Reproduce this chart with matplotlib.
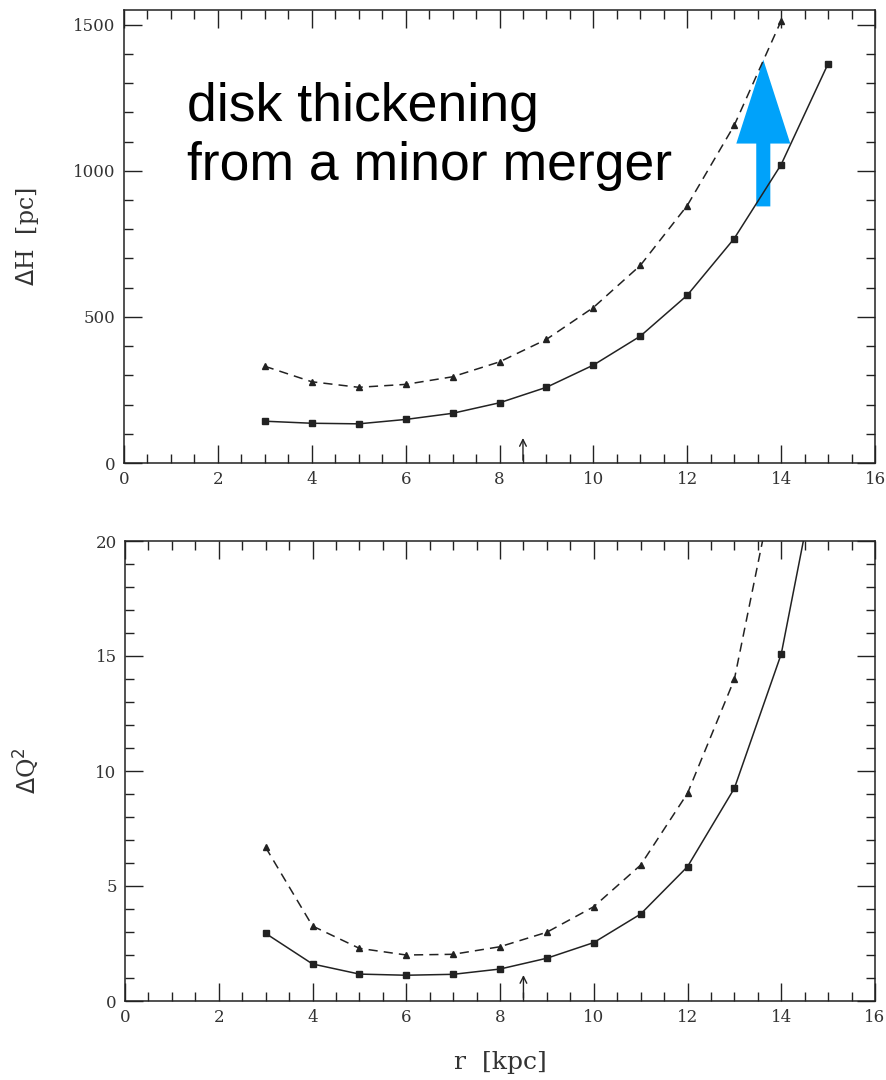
import numpy as np
import matplotlib.pyplot as plt
from matplotlib.ticker import MultipleLocator

# radius (kpc)
r_solid  = [3, 4, 5, 6, 7, 8, 9, 10, 11, 12, 13, 14, 15]
r_dashed = [3, 4, 5, 6, 7, 8, 9, 10, 11, 12, 13, 14]

# scale height increase (pc)
dH_solid  = [143, 136, 134, 149, 170, 206, 259, 335, 434, 574, 768, 1021, 1366]
dH_dashed = [331, 278, 259, 269, 295, 346, 423, 532, 676, 881, 1155, 1513]

# change of Q^2
dQ_solid  = [2.94, 1.61, 1.17, 1.12, 1.16, 1.39, 1.86, 2.54, 3.78, 5.84, 9.25, 15.09, 25.5]
dQ_dashed = [6.68, 3.26, 2.29, 2.00, 2.03, 2.36, 2.99, 4.10, 5.91, 9.03, 13.99, 24.0]

r_sun = 8.5
ink = "#222222"
serif = "DejaVu Serif"

fig = plt.figure(figsize=(8.86, 10.8), dpi=100)
ax1 = fig.add_axes([124/886, 1-463/1080, 751/886, 453/1080])
ax2 = fig.add_axes([125/886, 1-1001/1080, 750/886, 460/1080])

def style(ax, ymax, ymajor, yminor):
    ax.set_xlim(0, 16)
    ax.set_ylim(0, ymax)
    ax.xaxis.set_major_locator(MultipleLocator(2))
    ax.xaxis.set_minor_locator(MultipleLocator(0.5))
    ax.yaxis.set_major_locator(MultipleLocator(ymajor))
    ax.yaxis.set_minor_locator(MultipleLocator(yminor))
    ax.tick_params(which="both", direction="in", top=True, right=True,
                   color=ink, width=1.0, labelsize=12, labelcolor="#333333")
    ax.tick_params(which="major", length=13, pad=6)
    ax.tick_params(which="minor", length=6.5)
    for lab in ax.get_xticklabels() + ax.get_yticklabels():
        lab.set_family(serif)
    for s in ax.spines.values():
        s.set_linewidth(1.1)
        s.set_color(ink)

def curves(ax, ys, yd):
    ax.plot(r_solid, ys, color=ink, lw=1.1, marker="s", ms=4.5)
    ax.plot(r_dashed, yd, color=ink, lw=1.1, ls=(0, (6, 4)), marker="^", ms=5)

# upper panel
style(ax1, 1550, 500, 100)
curves(ax1, dH_solid, dH_dashed)
ax1.annotate("", xy=(r_sun, 95), xytext=(r_sun, 0),
             arrowprops=dict(arrowstyle="->", lw=1.0, color=ink, mutation_scale=12))
ax1.set_ylabel(r"$\Delta$H  [pc]", family=serif, fontsize=17, color="#333333")
ax1.yaxis.set_label_coords(-0.110, 0.5)

ax1.text(1.35, 970, "disk thickening\nfrom a minor merger", family="Liberation Sans",
         fontsize=38.5, va="baseline", ha="left", linespacing=1.21, color="black")
ax1.arrow(13.62, 878, 0, 502, width=0.3, head_width=1.15, head_length=287,
          length_includes_head=True, color="#00a2fa", lw=0)

# lower panel
style(ax2, 20, 5, 1)
curves(ax2, dQ_solid, dQ_dashed)
ax2.annotate("", xy=(r_sun, 1.25), xytext=(r_sun, 0),
             arrowprops=dict(arrowstyle="->", lw=1.0, color=ink, mutation_scale=12))
ax2.set_ylabel(r"$\Delta$Q$^2$", family=serif, fontsize=17, color="#333333")
ax2.yaxis.set_label_coords(-0.112, 0.5)
ax2.set_xlabel("r  [kpc]", family=serif, fontsize=18, color="#333333")
ax2.xaxis.set_label_coords(0.5, -0.108)

fig.savefig("out.png", dpi=100)
